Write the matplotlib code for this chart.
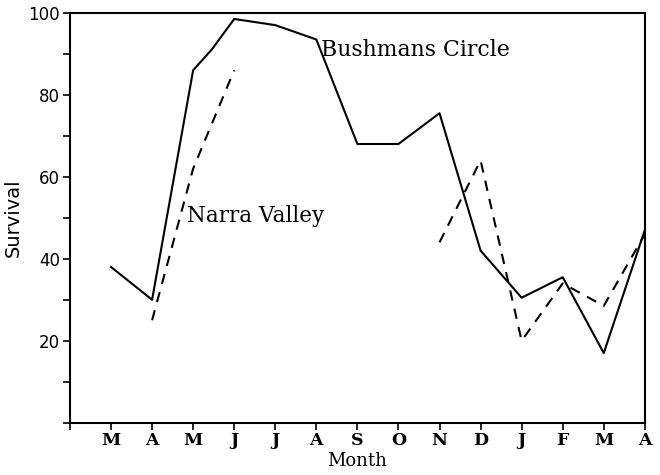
import numpy as np
import matplotlib
matplotlib.use("Agg")
import matplotlib.pyplot as plt
from matplotlib.ticker import MultipleLocator

months = ["M", "A", "M", "J", "J", "A", "S", "O", "N", "D", "J", "F", "M", "A"]

# Bushmans Circle (solid), month index 1..14 plus one kink
bush_x = [1, 2, 3, 3.45, 4, 5, 6, 7, 8, 9, 10, 11, 12, 13, 14]
bush_y = [38, 30, 86, 91, 98.5, 97, 93.5, 68, 68, 75.5, 42, 30.5, 35.5, 17, 47]

# Narra Valley (dashed), two separate pieces
narra1_x = [2, 3, 4]
narra1_y = [25, 62, 86]
narra2_x = [9, 10, 11, 12, 13, 14]
narra2_y = [44, 64, 20, 34, 28.5, 46]

fig = plt.figure(figsize=(6.6, 4.75), dpi=100)
ax = fig.add_axes([0.106, 0.11, 0.871, 0.863])

ax.plot(bush_x, bush_y, color="black", lw=1.5)
ax.plot(narra1_x, narra1_y, color="black", lw=1.5, dashes=(5, 4))
ax.plot(narra2_x, narra2_y, color="black", lw=1.5, dashes=(5, 4))

ax.set_xlim(0, 14)
ax.set_ylim(0, 100)
ax.set_xticks(range(0, 15))
ax.set_xticklabels([""] + months, family="DejaVu Serif",
                   fontsize=12.5, fontweight="bold")
ax.yaxis.set_minor_locator(MultipleLocator(10))
ax.set_yticks([20, 40, 60, 80, 100])
ax.set_yticklabels(["20", "40", "60", "80", "100"], fontsize=12,
                   family="DejaVu Sans")
ax.tick_params(axis="both", which="both", direction="out", width=1.2)
ax.tick_params(axis="x", length=5, pad=2)
ax.tick_params(axis="y", which="major", length=5, pad=2)
ax.tick_params(axis="y", which="minor", length=5)
for s in ax.spines.values():
    s.set_linewidth(1.5)

ax.text(6.12, 91, "Bushmans Circle", family="DejaVu Serif", fontsize=15.8,
        va="center", ha="left")
ax.text(2.85, 50.5, "Narra Valley", family="DejaVu Serif", fontsize=15.5,
        va="center", ha="left")

ax.set_ylabel("Survival", family="DejaVu Sans", fontsize=14, labelpad=4)
ax.set_xlabel("Month", family="DejaVu Serif", fontsize=13, labelpad=2)

fig.savefig("out.png", dpi=100)
